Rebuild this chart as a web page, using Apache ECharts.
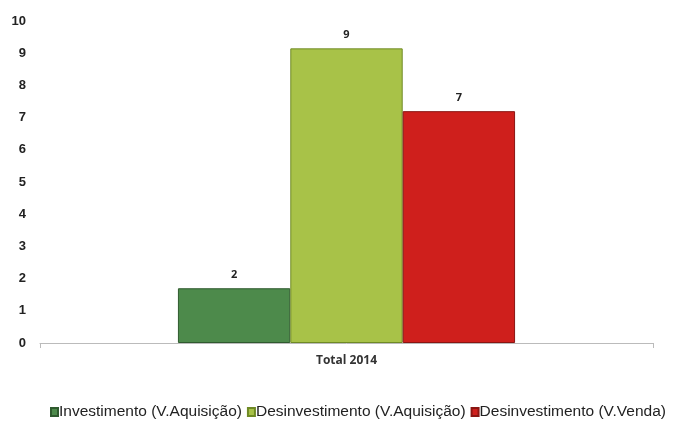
<!DOCTYPE html>
<html><head><meta charset="utf-8">
<script src="https://cdn.jsdelivr.net/npm/echarts@6/dist/echarts.min.js"></script>
<style>html,body{margin:0;padding:0;background:#fff}#c{width:693px;height:426px}</style>
</head><body><div id="c"></div>
<script>
const categories = ['Total 2014'];
const seriesNames = ['Investimento (V.Aquisição)', 'Desinvestimento (V.Aquisição)', 'Desinvestimento (V.Venda)'];
const investAquisicao = [1.7];
const desinvAquisicao = [9.15];
const desinvVenda = [7.2];
const yTicks = [0, 1, 2, 3, 4, 5, 6, 7, 8, 9, 10];
const colors = ['#4d8a4b', '#a8c248', '#cf1f1c'];
const borders = ['#2f5a2e', '#6f8a25', '#8a1512'];

const chart = echarts.init(document.getElementById('c'));
const dataSets = [investAquisicao, desinvAquisicao, desinvVenda];
chart.setOption({
  animation: false,
  grid: {left: 40, right: 40, top: 21, bottom: 83},
  legend: {
    bottom: 6, left: 50, right: 0, padding: 0, itemWidth: 7, itemHeight: 8, itemGap: 5,
    icon: 'rect',
    textStyle: {fontFamily: 'Liberation Sans', fontSize: 15.5, color: '#222', padding: [0,0,0,-4]},
    data: seriesNames
  },
  xAxis: {
    type: 'category', data: categories,
    axisLine: {lineStyle: {color: '#bbb', width: 1}},
    axisTick: {show: true, alignWithLabel: false, lineStyle: {color: '#bbb'}},
    axisLabel: {fontFamily: 'Open Sans', fontWeight: 'bold', fontSize: 12, color: '#333', margin: 12}
  },
  yAxis: {
    type: 'value', min: yTicks[0], max: yTicks[yTicks.length-1], interval: 1,
    axisLine: {show: false}, axisTick: {show: false}, splitLine: {show: false},
    axisLabel: {fontFamily: 'Liberation Sans', fontWeight: 'bold', fontSize: 13, color: '#222', margin: 14}
  },
  series: seriesNames.map((n, i) => ({
    name: n, type: 'bar', data: dataSets[i],
    barGap: '0%', barCategoryGap: '45%',
    itemStyle: {color: colors[i], borderColor: borders[i], borderWidth: 1},
    label: {show: true, position: 'top', distance: 8, fontFamily: 'Open Sans', fontWeight: 'bold', fontSize: 11, color: '#222',
      formatter: p => Math.round(p.value)}
  }))
});
</script></body></html>
